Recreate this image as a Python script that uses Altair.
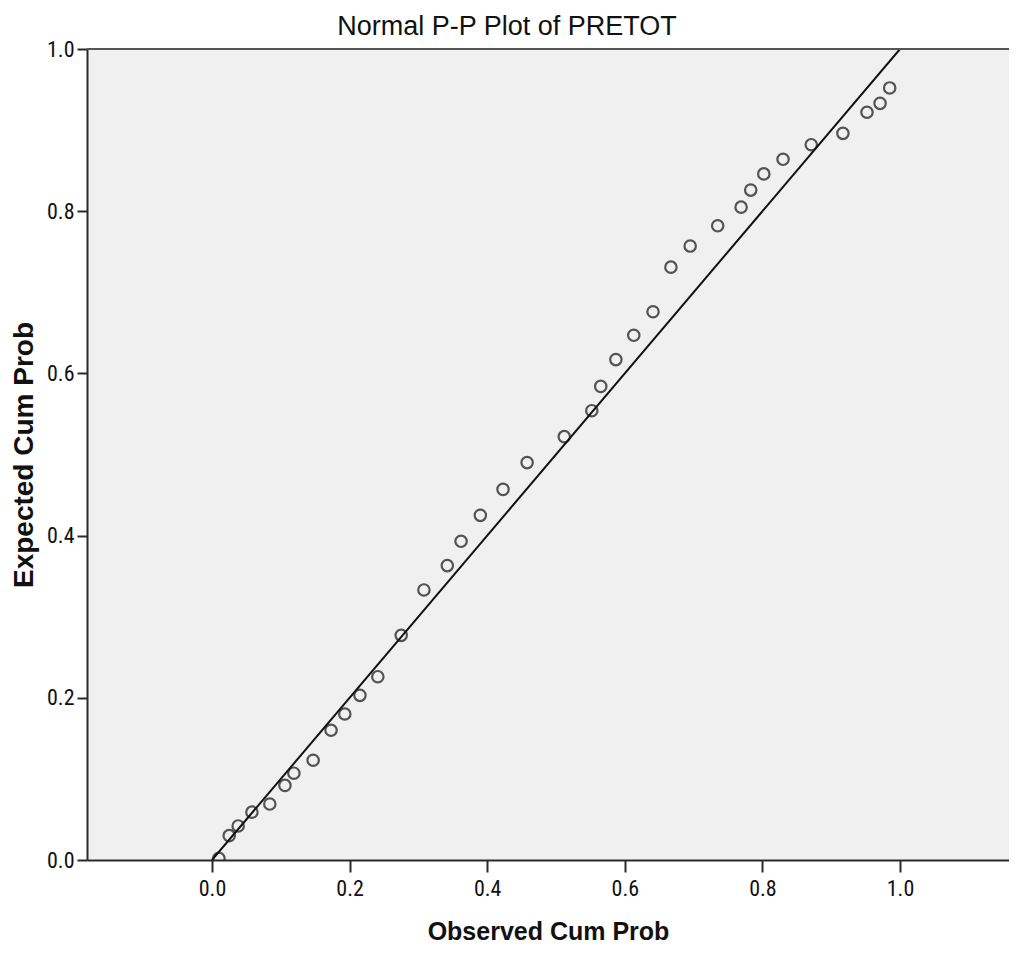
import altair as alt
import pandas as pd

# Observed cumulative probability (x) and expected cumulative probability (y)
observed = [0.010, 0.025, 0.038, 0.058, 0.084, 0.106, 0.119, 0.147, 0.173, 0.193,
            0.215, 0.241, 0.275, 0.308, 0.342, 0.362, 0.390, 0.423, 0.458, 0.512,
            0.552, 0.565, 0.587, 0.613, 0.641, 0.667, 0.695, 0.735, 0.769, 0.783,
            0.802, 0.830, 0.871, 0.917, 0.952, 0.971, 0.985]
expected = [0.002, 0.030, 0.042, 0.059, 0.069, 0.092, 0.107, 0.123, 0.160, 0.180,
            0.203, 0.226, 0.277, 0.333, 0.363, 0.393, 0.425, 0.457, 0.490, 0.522,
            0.554, 0.584, 0.617, 0.647, 0.676, 0.731, 0.757, 0.782, 0.805, 0.826,
            0.846, 0.864, 0.882, 0.896, 0.922, 0.933, 0.952]
ref_line_x = [0.0, 1.0]
ref_line_y = [0.0, 1.0]
tick_values = [0.0, 0.2, 0.4, 0.6, 0.8, 1.0]

pts = pd.DataFrame({"obs": observed, "exp": expected})
line_df = pd.DataFrame({"obs": ref_line_x, "exp": ref_line_y})

narrow = "Liberation Sans Narrow, Arial Narrow, Roboto Condensed, Liberation Sans, sans-serif"
sans = "Liberation Sans, Arial, sans-serif"

xscale = alt.Scale(domain=[-0.1817, 1.1584], nice=False, zero=False)
yscale = alt.Scale(domain=[0, 1], nice=False, zero=False)

xaxis = alt.Axis(values=tick_values, format=".1f", grid=False, title="Observed Cum Prob",
                 tickSize=12, tickWidth=2, tickColor="#2a2a2a", domainColor="#2a2a2a", domainWidth=2,
                 labelFont=narrow, labelFontSize=22, labelColor="#111", labelPadding=6,
                 titleFont=sans, titleFontSize=25, titleFontWeight="bold", titleColor="#111",
                 titlePadding=20)
yaxis = alt.Axis(values=tick_values, format=".1f", grid=False, title="Expected Cum Prob",
                 tickSize=10, tickWidth=2, tickColor="#2a2a2a", domainColor="#2a2a2a", domainWidth=2,
                 labelFont=narrow, labelFontSize=22, labelColor="#111", labelPadding=3,
                 titleFont=sans, titleFontSize=28, titleFontWeight="bold", titleColor="#111",
                 titlePadding=8)

points = alt.Chart(pts).mark_point(shape="circle", filled=False, size=130, strokeWidth=2.2,
                                   color="#111", clip=True).encode(
    x=alt.X("obs:Q", scale=xscale, axis=xaxis),
    y=alt.Y("exp:Q", scale=yscale, axis=yaxis),
)

ref = alt.Chart(line_df).mark_line(color="#111", strokeWidth=2, clip=True).encode(
    x=alt.X("obs:Q", scale=xscale),
    y=alt.Y("exp:Q", scale=yscale),
)

top_border = alt.Chart(pd.DataFrame({"exp": [1.0]})).mark_rule(color="#555", strokeWidth=2).encode(
    y=alt.Y("exp:Q", scale=yscale),
)

chart = alt.layer(ref, points, top_border).properties(
    width=922,
    height=811,
    padding={"left": 79, "top": 41, "right": 0, "bottom": 86},
    autosize=alt.AutoSizeParams(type="none"),
    background="white",
    title=alt.TitleParams("Normal P-P Plot of PRETOT", font=sans, fontSize=27,
                          fontWeight="normal", color="#111", anchor="middle", dx=-41, offset=-3),
).configure_view(fill="#f0f0f0", strokeWidth=0)

chart.save("out.html", embed_options={"renderer": "svg", "actions": False})
